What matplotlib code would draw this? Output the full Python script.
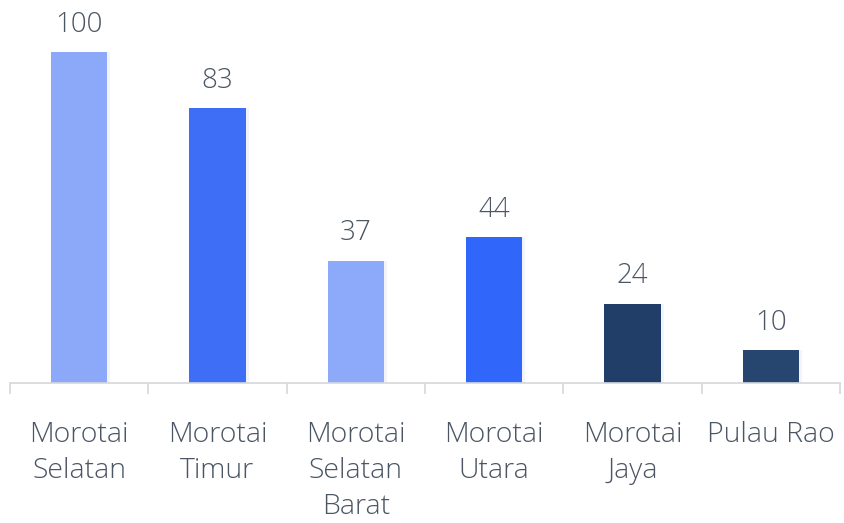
import matplotlib
matplotlib.use("Agg")
import matplotlib.pyplot as plt

categories = ["Morotai\nSelatan", "Morotai\nTimur", "Morotai\nSelatan\nBarat",
              "Morotai\nUtara", "Morotai\nJaya", "Pulau Rao"]
values = [100, 83, 37, 44, 24, 10]
colors = ["#8BA8F9", "#3E6EF6", "#8CA9FA", "#3066F9", "#213E69", "#27466F"]

families = ["Open Sans", "Lato", "DejaVu Sans"]
plt.rcParams["font.family"] = families

fig = plt.figure(figsize=(8.44, 5.23), dpi=100)
ax = fig.add_axes([10/844, 140/523, 830/844, 383/523])

x = list(range(len(values)))
# subtle shadow
ax.bar([i + 0.015 for i in x], values, width=0.42, color="#d5ddee", alpha=0.3, zorder=1)
bars = ax.bar(x, values, width=0.405, color=colors, zorder=2)

for i, v in enumerate(values):
    ax.text(i, v + 4.0, str(v), ha="center", va="bottom", fontsize=20,
            color="#4b5563", fontweight="light")

ax.set_xlim(-0.5, len(values) - 0.5)
ax.set_ylim(0, 100 * 383 / 331)

for s in ["top", "right", "left"]:
    ax.spines[s].set_visible(False)
ax.spines["bottom"].set_color("#d4d7dc")
ax.spines["bottom"].set_linewidth(1.2)
ax.set_yticks([])

ax.set_xticks([i - 0.5 for i in range(len(values) + 1)], minor=False)
ax.set_xticklabels([])
ax.tick_params(axis="x", which="major", length=8, color="#d4d7dc", width=1.2)
ax.set_xticks(x, minor=True)
ax.set_xticklabels(categories, minor=True, fontsize=20.5, color="#4b5563",
                   fontweight="light", linespacing=1.4)
ax.tick_params(axis="x", which="minor", length=0, pad=27)

fig.savefig("out.png", dpi=100, facecolor="white")
